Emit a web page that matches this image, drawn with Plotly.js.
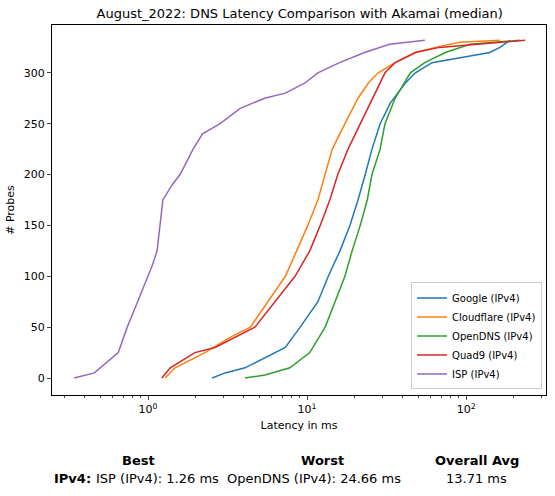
<!DOCTYPE html>
<html>
<head>
<script src="https://cdn.plot.ly/plotly-3.0.1.min.js"></script>
<style>body{margin:0}#myDiv{width:555px;height:496px}</style>
</head>
<body>
<div id="myDiv"></div>
<script>
var probes = {
    google: [0, 5, 10, 20, 30, 50, 75, 100, 125, 150, 175, 200, 225, 250, 270, 290, 300, 310, 315, 320, 325, 332],
    cloudflare: [0, 10, 25, 40, 50, 75, 100, 125, 150, 175, 200, 225, 250, 275, 290, 300, 310, 320, 325, 330, 332],
    opendns: [0, 3, 10, 25, 50, 75, 100, 125, 150, 175, 200, 225, 250, 275, 300, 310, 320, 328, 332],
    quad9: [0, 10, 25, 30, 50, 75, 100, 125, 150, 175, 200, 225, 250, 275, 300, 310, 320, 325, 330, 332],
    isp: [0, 5, 25, 50, 75, 100, 110, 125, 150, 175, 190, 200, 225, 240, 250, 265, 275, 280, 290, 300, 310, 320, 328, 332]
};
var latency = {
    google: [2.53, 3.05, 4.07, 5.45, 7.3, 9.05, 11.7, 13.6, 16.1, 18.6, 20.9, 23.2, 25.6, 28.8, 33.3, 41.5, 48, 61, 91, 141, 163, 189],
    cloudflare: [1.28, 1.48, 2.28, 3.28, 4.4, 5.7, 7.3, 8.6, 10.1, 11.7, 13, 14.4, 17.3, 20.9, 24.3, 28, 35.8, 48, 64, 91, 163],
    opendns: [4.07, 5.45, 7.8, 10.4, 13, 15, 17.3, 19.2, 21.6, 23.9, 25.6, 28.8, 30.9, 35.8, 44.6, 55, 74, 106, 219],
    quad9: [1.22, 1.38, 1.97, 2.64, 4.7, 6.3, 8.4, 10.4, 12.1, 13.9, 15.6, 18.1, 21.6, 25.6, 30.9, 35.8, 48, 68, 163, 235],
    isp: [0.343, 0.46, 0.65, 0.74, 0.86, 1.0, 1.06, 1.14, 1.19, 1.24, 1.42, 1.59, 1.92, 2.2, 2.84, 3.8, 5.4, 7.3, 9.7, 11.7, 16, 23, 33, 55]
};
var keys = ['google', 'cloudflare', 'opendns', 'quad9', 'isp'];
var names = ['Google (IPv4)', 'Cloudflare (IPv4)', 'OpenDNS (IPv4)', 'Quad9 (IPv4)', 'ISP (IPv4)'];
var colors = ['#1f77b4', '#ff7f0e', '#2ca02c', '#d62728', '#9467bd'];

var data = keys.map(function(k, i) {
    return {type: 'scatter', mode: 'lines', name: names[i], x: latency[k], y: probes[k],
            line: {color: colors[i], width: 1.5}};
});

var minorVals = [];
[0.1, 1, 10, 100].forEach(function(d) {
    for (var m = 2; m < 10; m++) minorVals.push(d * m);
});

var f = {family: 'DejaVu Sans', size: 13, color: 'black'};
function ann(text, px, py, bold) {
    return {text: bold ? '<b>' + text + '</b>' : text, xref: 'paper', yref: 'paper',
            x: (px - 52) / 494, y: (395 - py) / 370, xanchor: 'center', yanchor: 'middle',
            showarrow: false, font: f};
}

var layout = {
    width: 555, height: 496,
    margin: {l: 52, r: 9, t: 25, b: 101},
    paper_bgcolor: 'white', plot_bgcolor: 'white',
    font: {family: 'DejaVu Sans', size: 11, color: 'black'},
    title: {text: 'August_2022: DNS Latency Comparison with Akamai (median)', font: {size: 13},
            x: 0.54, y: 0.972, yanchor: 'middle'},
    xaxis: {
        type: 'log', range: [Math.log10(0.249), Math.log10(318)],
        tickvals: [1, 10, 100], ticktext: ['10<sup>0</sup>', '10<sup>1</sup>', '10<sup>2</sup>'],
        ticks: 'outside', ticklen: 4, showgrid: false, zeroline: false,
        showline: true, linecolor: 'black', mirror: true,
        minor: {tickvals: minorVals, ticks: 'outside', ticklen: 2, showgrid: false},
        title: {text: 'Latency in ms', font: {size: 11}, standoff: 6}
    },
    yaxis: {
        range: [-16.7, 347], tickvals: [0, 50, 100, 150, 200, 250, 300],
        ticks: 'outside', ticklen: 4, showgrid: false, zeroline: false,
        showline: true, linecolor: 'black', mirror: true,
        title: {text: '# Probes', font: {size: 11}, standoff: 6}
    },
    legend: {x: 0.992, y: 0.015, xanchor: 'right', yanchor: 'bottom', bordercolor: '#ccc', borderwidth: 1,
             bgcolor: 'white', font: {size: 10}, itemwidth: 30, tracegroupgap: 0},
    annotations: [
        ann('Best', 138, 460, true), ann('Worst', 322, 460, true), ann('Overall Avg', 477, 460, true),
        ann('IPv4:', 72, 479, true), ann('ISP (IPv4): 1.26 ms', 157, 479), ann('OpenDNS (IPv4): 24.66 ms', 314, 479),
        ann('13.71 ms', 476, 479)
    ]
};

Plotly.newPlot('myDiv', data, layout, {displayModeBar: false});
</script>
</body>
</html>
